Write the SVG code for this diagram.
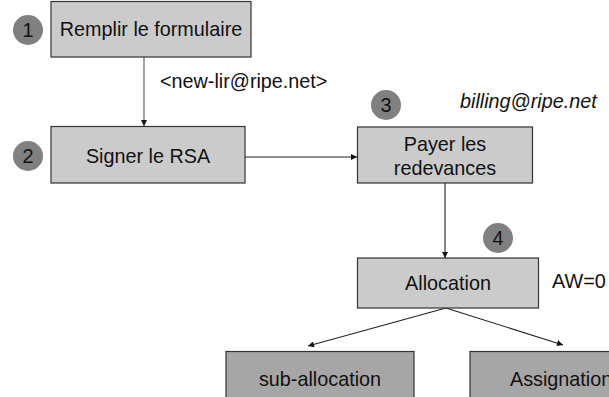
<svg xmlns="http://www.w3.org/2000/svg" width="609" height="397" viewBox="0 0 609 397">
<style>
text{font-family:"Liberation Sans",Arial,sans-serif;font-size:19.8px;fill:#111}
.c{text-anchor:middle}
.box{fill:#cbcbcb;stroke:#333;stroke-width:1.2}
.box2{fill:#a6a6a6;stroke:#333;stroke-width:1.2}
.badge{fill:#808080}
.ln{stroke:#222;stroke-width:1.1;fill:none;marker-end:url(#ah)}
</style>
<defs>
<marker id="ah" viewBox="0 0 10 10" refX="10" refY="5" markerWidth="7" markerHeight="6" markerUnits="userSpaceOnUse" orient="auto">
<path d="M0,0 L10,5 L0,10 z" fill="#111"/>
</marker>
</defs>
<rect width="609" height="397" fill="#fff"/>
<g id="connectors">
<line class="ln" x1="144" y1="57" x2="144" y2="126" style="stroke:#555"/>
<line class="ln" x1="245" y1="157" x2="357" y2="157"/>
<line class="ln" x1="445" y1="183" x2="445" y2="258"/>
<line class="ln" x1="446" y1="308" x2="308" y2="346"/>
<line class="ln" x1="446" y1="308" x2="563" y2="345"/>
</g>
<g id="node1">
<rect class="box" x="51" y="1.5" width="200" height="55.5"/>
<text class="c" x="151" y="36">Remplir le formulaire</text>
</g>
<g id="badge1"><circle class="badge" cx="28" cy="30" r="15"/><text class="c" x="28" y="37">1</text></g>
<text id="label-newlir" x="160" y="88">&lt;new-lir@ripe.net&gt;</text>
<g id="node2">
<rect class="box" x="51" y="126.5" width="194" height="56.5"/>
<text class="c" x="148" y="163">Signer le RSA</text>
</g>
<g id="badge2"><circle class="badge" cx="28" cy="156" r="15"/><text class="c" x="28" y="163">2</text></g>
<g id="node3">
<rect class="box" x="357.5" y="127" width="175" height="56"/>
<text class="c" x="445" y="151">Payer les</text>
<text class="c" x="445" y="175">redevances</text>
</g>
<g id="badge3"><circle class="badge" cx="386" cy="105" r="15"/><text class="c" x="386" y="112">3</text></g>
<text id="label-billing" x="460" y="108" font-style="italic">billing@ripe.net</text>
<g id="badge4"><circle class="badge" cx="498" cy="238" r="15"/><text class="c" x="498" y="245">4</text></g>
<g id="node4">
<rect class="box" x="357.5" y="258" width="181" height="50"/>
<text class="c" x="448" y="290">Allocation</text>
</g>
<text id="label-aw" x="552" y="288">AW=0</text>
<g id="node5">
<rect class="box2" x="226" y="351.5" width="188" height="50"/>
<text class="c" x="320" y="386">sub-allocation</text>
</g>
<g id="node6">
<rect class="box2" x="470" y="351.5" width="150" height="50"/>
<text x="510" y="386">Assignation</text>
</g>
</svg>
